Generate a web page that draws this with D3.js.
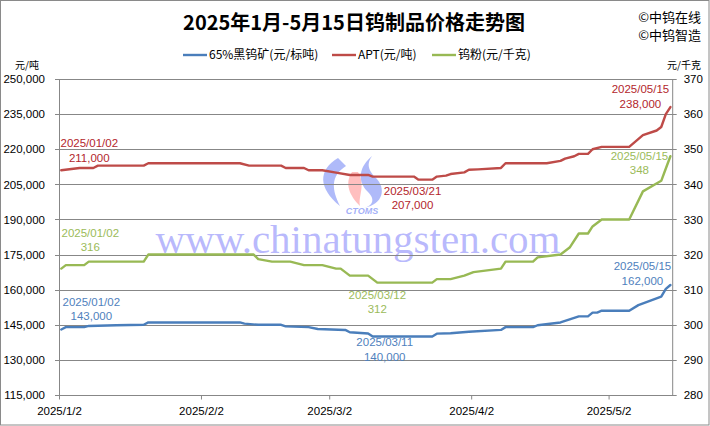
<!DOCTYPE html>
<html><head><meta charset="utf-8">
<script src="https://cdn.jsdelivr.net/npm/d3@7/dist/d3.min.js"></script>
<style>
html,body{margin:0;padding:0;background:#fff;}
svg{display:block;}
</style></head>
<body>
<script>
// ---------------- data ----------------
const title = "2025年1月-5月15日钨制品价格走势图";
const seriesNames = ["65%黑钨矿(元/标吨)", "APT(元/吨)", "钨粉(元/千克)"];
const copyrightLines = ["©中钨在线", "©中钨智造"];
const leftUnit = "元/吨";
const rightUnit = "元/千克";

const oreDates = ["2025-01-02","2025-01-03","2025-01-07","2025-01-08","2025-01-14","2025-01-20","2025-01-21","2025-02-10","2025-02-11","2025-02-14","2025-02-19","2025-02-20","2025-02-25","2025-02-27","2025-03-05","2025-03-06","2025-03-10","2025-03-11","2025-03-24","2025-03-25","2025-03-28","2025-04-01","2025-04-08","2025-04-09","2025-04-15","2025-04-16","2025-04-21","2025-04-23","2025-04-25","2025-04-27","2025-04-28","2025-04-29","2025-04-30","2025-05-06","2025-05-08","2025-05-13","2025-05-14","2025-05-15"];
const oreValues = [143000,144000,144000,144500,144800,145000,146000,146000,145500,145000,145000,144300,144000,143200,142800,141800,141300,140000,140000,141200,141400,142000,142800,144000,144000,144800,146000,147300,148600,148600,150200,150200,151000,151000,153400,157000,160300,162000];

const aptDates = ["2025-01-02","2025-01-06","2025-01-09","2025-01-10","2025-01-20","2025-01-21","2025-02-10","2025-02-12","2025-02-19","2025-02-20","2025-02-24","2025-02-25","2025-02-28","2025-03-03","2025-03-06","2025-03-10","2025-03-11","2025-03-20","2025-03-21","2025-03-24","2025-03-25","2025-03-27","2025-03-28","2025-03-31","2025-04-01","2025-04-03","2025-04-08","2025-04-09","2025-04-18","2025-04-21","2025-04-22","2025-04-24","2025-04-25","2025-04-27","2025-04-28","2025-04-30","2025-05-06","2025-05-09","2025-05-12","2025-05-13","2025-05-14","2025-05-15"];
const aptValues = [211000,212000,212000,213000,213000,214000,214000,213000,213000,212000,212000,211000,211000,210000,209000,209000,208300,208300,207000,207000,208300,208700,209400,210100,211200,211400,212000,214000,214000,215000,216000,217000,218000,218000,220000,221000,221000,226000,228000,229500,235000,238000];

const powderDates = ["2025-01-02","2025-01-03","2025-01-07","2025-01-08","2025-01-20","2025-01-21","2025-02-13","2025-02-14","2025-02-17","2025-02-21","2025-02-24","2025-02-28","2025-03-03","2025-03-04","2025-03-06","2025-03-10","2025-03-12","2025-03-24","2025-03-25","2025-03-28","2025-03-31","2025-04-02","2025-04-08","2025-04-09","2025-04-15","2025-04-16","2025-04-21","2025-04-23","2025-04-25","2025-04-27","2025-04-28","2025-04-30","2025-05-06","2025-05-09","2025-05-13","2025-05-14","2025-05-15"];
const powderValues = [316,317,317,318,318,320,320,318.7,318,318,317,317,316,316,314,314,312,312,313,313,314,315,316,318,318,319.2,320,322,326,326,328,330,330,338,341,344.5,348];

const leftTicks = [115000,130000,145000,160000,175000,190000,205000,220000,235000,250000];
const rightTicks = [280,290,300,310,320,330,340,350,360,370];
const xTickDates = ["2025-01-02","2025-02-02","2025-03-02","2025-04-02","2025-05-02"];
const xTickLabels = ["2025/1/2","2025/2/2","2025/3/2","2025/4/2","2025/5/2"];

// labelled points: series index, date
const labelSeries = [1, 2, 0, 2, 0, 1, 1, 2, 0];
const labelDates  = ["2025-01-02","2025-01-02","2025-01-02","2025-03-12","2025-03-11","2025-03-21","2025-05-15","2025-05-15","2025-05-15"];

// ---------------- drawing ----------------
const W = 710, H = 426;
const colors = ["#4A7EBB", "#BE4B48", "#98B954"];
const textColors = ["#4F81BD", "#B3262C", "#9BBB59"];
const parse = d3.utcParse("%Y-%m-%d");
const HALF = 12 * 3600 * 1000;

const svg = d3.select("body").append("svg").attr("width", W).attr("height", H);
svg.append("rect").attr("x",0.5).attr("y",0.5).attr("width",W-1.5).attr("height",H-1.5)
  .attr("fill","#fff").attr("stroke","#8a8a8a");

const plot = {l: 59, r: 672.7, t: 79, b: 395};
const x = d3.scaleUtc().domain([parse("2025-01-02"), parse("2025-05-16")]).range([plot.l, plot.r]);
const yL = d3.scaleLinear().domain([115000, 250000]).range([plot.b, plot.t]);
const yR = d3.scaleLinear().domain([280, 370]).range([plot.b, plot.t]);

// watermark
const wm = svg.append("g").attr("class","watermark");
wm.append("text").attr("x", 358).attr("y", 253).attr("text-anchor","middle")
  .attr("font-family","'Liberation Serif','DejaVu Serif',serif").attr("font-size", 41)
  .attr("fill","#7d7dfa").attr("fill-opacity",0.55).text("www.chinatungsten.com");
wm.append("path").attr("d","M338,158 C318,170 318,188 340,206 C332,190 330,176 346,166 Z")
  .attr("fill","#7a8cf5").attr("fill-opacity",0.6);
wm.append("path").attr("d","M352,172 C344,184 350,196 360,206 C358,196 366,186 358,172 Z")
  .attr("fill","#ff8a8a").attr("fill-opacity",0.55);
wm.append("path").attr("d","M372,156 C360,166 356,180 368,192 C376,200 372,206 364,208 C384,204 386,188 376,178 C366,168 368,162 372,156 Z")
  .attr("fill","#7a8cf5").attr("fill-opacity",0.6);
wm.append("text").attr("x", 362).attr("y", 214).attr("text-anchor","middle")
  .attr("font-family","'Liberation Sans',Arial,sans-serif").attr("font-size", 9)
  .attr("font-style","italic").attr("font-weight","bold")
  .attr("fill","#7a8cf5").attr("fill-opacity",0.7).text("CTOMS");

// gridlines
svg.append("g").selectAll("line").data(leftTicks).join("line")
  .attr("x1", plot.l - 4).attr("x2", plot.r + 4)
  .attr("y1", d => Math.round(yL(d)) + 0.5).attr("y2", d => Math.round(yL(d)) + 0.5)
  .attr("stroke", "#878787").attr("stroke-width", 1);

// axes lines
svg.append("line").attr("x1", plot.l+0.5).attr("x2", plot.l+0.5).attr("y1", plot.t).attr("y2", plot.b+0.5).attr("stroke","#878787");
svg.append("line").attr("x1", plot.r).attr("x2", plot.r).attr("y1", plot.t).attr("y2", plot.b+0.5).attr("stroke","#878787");

const tickFont = "'Liberation Sans',Arial,sans-serif";
const axL = d3.axisLeft(yL).tickValues(leftTicks).tickSize(0).tickPadding(14).tickFormat(d3.format(","));
const gL = svg.append("g").attr("transform", `translate(${plot.l},0)`).call(axL);
gL.select(".domain").remove();
gL.selectAll("text").attr("font-family", tickFont).attr("font-size", 11.5).attr("fill","#000");

const axR = d3.axisRight(yR).tickValues(rightTicks).tickSize(0).tickPadding(11);
const gR = svg.append("g").attr("transform", `translate(${plot.r},0)`).call(axR);
gR.select(".domain").remove();
gR.selectAll("text").attr("font-family", tickFont).attr("font-size", 11.5).attr("fill","#000");

const axB = d3.axisBottom(x).tickValues(xTickDates.map(parse)).tickSize(4).tickPadding(7)
  .tickFormat((d,i) => xTickLabels[i]);
const gB = svg.append("g").attr("transform", `translate(0,${plot.b+0.5})`).call(axB);
gB.select(".domain").attr("stroke","#878787").attr("d", `M${plot.l},0H${plot.r}`);
gB.selectAll(".tick line").attr("stroke","#878787");
gB.selectAll("text").attr("font-family", tickFont).attr("font-size", 11.5).attr("fill","#000");

// series
const seriesData = [
  {dates: oreDates, values: oreValues, y: yL},
  {dates: aptDates, values: aptValues, y: yL},
  {dates: powderDates, values: powderValues, y: yR}
];
seriesData.forEach((s, i) => {
  const pts = s.dates.map((d, k) => ({t: new Date(parse(d).getTime() + HALF), v: s.values[k]}));
  s.pts = pts;
  const line = d3.line().x(p => x(p.t)).y(p => s.y(p.v));
  svg.append("path").datum(pts).attr("d", line).attr("fill","none")
    .attr("stroke", colors[i]).attr("stroke-width", 2.4)
    .attr("stroke-linejoin","round").attr("stroke-linecap","round");
});

// data labels
const offsets = [
  {dx: 28, d1: -27, d2: -12},
  {dx: 29, d1: -36, d2: -22},
  {dx: 30, d1: -27, d2: -13},
  {dx: 0,  d1: 12,  d2: 26},
  {dx: 12, d1: 5,   d2: 20},
  {dx: -6, d1: 11,  d2: 25},
  {dx: -30, d1: -18, d2: -3},
  {dx: -31, d1: 0,  d2: 14},
  {dx: -28, d1: -19, d2: -4}
];
const fmtNum = d3.format(",");
labelSeries.forEach((si, k) => {
  const s = seriesData[si];
  const idx = s.dates.indexOf(labelDates[k]);
  const p = s.pts[idx];
  const px = x(p.t), py = s.y(p.v);
  const o = offsets[k];
  const g = svg.append("g").attr("font-family", tickFont).attr("font-size", 11.5)
    .attr("fill", textColors[si]).attr("text-anchor","middle");
  g.append("text").attr("x", px + o.dx).attr("y", py + o.d1).attr("dy","0.35em")
    .text(labelDates[k].replace(/-/g,"/"));
  g.append("text").attr("x", px + o.dx).attr("y", py + o.d2).attr("dy","0.35em")
    .text(fmtNum(p.v));
});

// title
svg.append("text").attr("x", 354).attr("y", 30).attr("text-anchor","middle")
  .attr("font-family","'Noto Sans CJK SC',sans-serif").attr("font-weight","bold")
  .attr("font-size", 20).attr("fill","#000").text(title);

// copyright
copyrightLines.forEach((t, i) => {
  svg.append("text").attr("x", 701).attr("y", 22 + i*18).attr("text-anchor","end")
    .attr("font-family","'Noto Sans CJK SC',sans-serif").attr("font-size", 13)
    .attr("fill","#000").text(t);
});

// legend
const legendX = [183, 332, 432];
seriesNames.forEach((n, i) => {
  const g = svg.append("g").attr("transform", `translate(${legendX[i]},55)`);
  g.append("line").attr("x1",0).attr("x2",24).attr("y1",0).attr("y2",0)
    .attr("stroke", colors[i]).attr("stroke-width", 2.4);
  g.append("text").attr("x", 26).attr("y", 0).attr("dy","0.35em")
    .attr("font-family","'Noto Sans CJK SC',sans-serif").attr("font-size", 12)
    .attr("fill","#000").text(n);
});

// axis units
svg.append("text").attr("x", 15).attr("y", 65).attr("dy","0.35em")
  .attr("font-family","'Noto Sans CJK SC',sans-serif").attr("font-size", 10).attr("fill","#000").text(leftUnit);
svg.append("text").attr("x", 701).attr("y", 65).attr("dy","0.35em").attr("text-anchor","end")
  .attr("font-family","'Noto Sans CJK SC',sans-serif").attr("font-size", 10).attr("fill","#000").text(rightUnit);
</script>
</body></html>
